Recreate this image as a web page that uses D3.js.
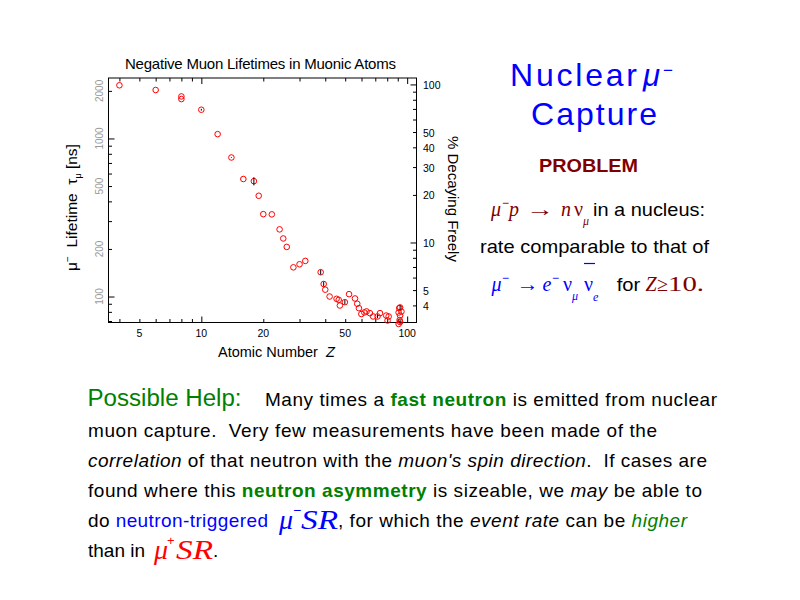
<!DOCTYPE html>
<html>
<head>
<meta charset="utf-8">
<script src="https://cdn.jsdelivr.net/npm/d3@7"></script>
<style>
body { margin: 0; background: #fff; }
text { font-family: "Liberation Sans", Arial, sans-serif; white-space: pre; }
</style>
</head>
<body>
<script>
// atomic number Z and negative muon lifetime in ns
var atomicZ = [4, 6, 8, 8, 10, 12, 14, 16, 18, 19, 20, 22, 24, 25, 26, 28, 30, 32,
  38, 39.3, 40, 42, 45.4, 46.5, 47.1, 49.8, 52.2, 55.8, 57.2, 58.3, 59.9, 61.9, 63.5,
  65.9, 68.3, 71.8, 73.8, 79.1, 80.3, 81.3, 90.9, 91.5, 92.4, 93.8, 92.4, 91.9, 92.4, 90.9];
var lifetime = [2170, 2026, 1845, 1775, 1520, 1065, 758, 554, 537, 434, 332, 331, 266, 233, 206, 153, 160, 168,
  142.5, 120, 110.5, 100, 96.7, 95.3, 87.7, 92.1, 103.5, 97.2, 90, 84.4, 77.5, 79.3, 80.5,
  78.5, 74.8, 74.8, 78.5, 75.8, 70.5, 74.8, 79.2, 84.4, 85.3, 80.3, 75.8, 71, 69, 67];
var lifetimeErr = [0, 0, 0, 0, 20, 0, 4, 0, 32, 0, 0, 0, 0, 0, 0, 0, 0, 0,
  5, 4, 0, 0, 0, 0, 0, 3, 0, 0, 0, 0, 0, 0, 0,
  0, 0, 2, 0, 0, 0, 0, 0, 0, 3, 0, 0, 0, 2, 0];
var xTickLabels = [5, 10, 20, 50, 100];
var yTickLabels = [100, 200, 500, 1000, 2000];
var pctTickLabels = [4, 5, 10, 20, 30, 40, 50, 100];
var freeLifetime = 2197;

var w = 800, h = 600;
var svg = d3.select("body").append("svg").attr("width", w).attr("height", h);
svg.append("rect").attr("width", w).attr("height", h).attr("fill", "#fff");

var plot = {left: 108.5, right: 416.5, top: 78, bottom: 322.5};
var x = d3.scaleLog().domain([3.54, 111]).range([plot.left, plot.right]);
var y = d3.scaleLog().domain([68.5, 2413]).range([plot.bottom, plot.top]);
var yPct = d3.scaleLog().domain(y.domain().map(function (v) { return v * 100 / freeLifetime; })).range(y.range());

function ticks(axisFn, scale, values, size, transform) {
    svg.append("g").attr("transform", transform)
        .call(axisFn(scale).tickValues(values).tickSize(-size).tickFormat(""))
        .call(function (g) { g.select(".domain").remove(); });
}
var xMinor = [4, 5, 6, 7, 8, 9, 20, 30, 40, 50, 60, 70, 80, 90];
var yMinor = [70, 80, 90, 200, 300, 400, 500, 600, 700, 800, 900, 2000];
var pMinor = [4, 5, 6, 7, 8, 9, 20, 30, 40, 50, 60, 70, 80, 90];
ticks(d3.axisTop, x, xMinor, 3.5, "translate(0," + plot.top + ")");
ticks(d3.axisTop, x, [10, 100], 6, "translate(0," + plot.top + ")");
ticks(d3.axisBottom, x, xMinor, 3.5, "translate(0," + plot.bottom + ")");
ticks(d3.axisBottom, x, [10, 100], 6, "translate(0," + plot.bottom + ")");
ticks(d3.axisLeft, y, yMinor, 3.5, "translate(" + plot.left + ",0)");
ticks(d3.axisLeft, y, [100, 1000], 6, "translate(" + plot.left + ",0)");
ticks(d3.axisRight, yPct, pMinor, 3.5, "translate(" + plot.right + ",0)");
ticks(d3.axisRight, yPct, [10, 100], 6, "translate(" + plot.right + ",0)");

svg.append("rect").attr("x", plot.left).attr("y", plot.top)
    .attr("width", plot.right - plot.left).attr("height", plot.bottom - plot.top)
    .attr("fill", "none").attr("stroke", "#000");

// tick labels
svg.append("g").selectAll("text").data(xTickLabels).enter().append("text")
    .attr("x", function (d) { return x(d); }).attr("y", 336.5)
    .attr("text-anchor", "middle").attr("font-size", 10.5).text(function (d) { return d; });
svg.append("g").selectAll("text").data(yTickLabels).enter().append("text")
    .attr("transform", function (d) { return "translate(102.5," + y(d) + ") rotate(-90)"; })
    .attr("text-anchor", "middle").attr("font-size", 10).attr("fill", "#999").text(function (d) { return d; });
svg.append("g").selectAll("text").data(pctTickLabels).enter().append("text")
    .attr("x", 423).attr("y", function (d) { return yPct(d) + 4.5; })
    .attr("font-size", 10.5).text(function (d) { return d; });

// data
var pts = atomicZ.map(function (z, i) { return {z: z, t: lifetime[i], e: lifetimeErr[i]}; });
svg.append("g").selectAll("circle").data(pts).enter().append("circle")
    .attr("cx", function (d) { return x(d.z); }).attr("cy", function (d) { return y(d.t); })
    .attr("r", 2.8).attr("fill", "none").attr("stroke", "#f00").attr("stroke-width", 1);
svg.append("g").selectAll("line").data(pts.filter(function (d) { return d.e > 0; })).enter().append("line")
    .attr("x1", function (d) { return x(d.z); }).attr("x2", function (d) { return x(d.z); })
    .attr("y1", function (d) { return y(d.t + d.e); }).attr("y2", function (d) { return y(d.t - d.e); })
    .attr("stroke", "#000").attr("stroke-width", 1);

// chart texts
svg.append("text").attr("x", 125).attr("y", 69).attr("font-size", 15)
    .attr("textLength", 271).text("Negative Muon Lifetimes in Muonic Atoms");
var xl = svg.append("text").attr("x", 218).attr("y", 357).attr("font-size", 14.5);
xl.append("tspan").text("Atomic Number  ");
xl.append("tspan").attr("font-style", "italic").text("Z");
var yl = svg.append("text").attr("transform", "translate(76.5,271) rotate(-90)").attr("font-size", 15.5);
yl.append("tspan").text("μ");
yl.append("tspan").attr("dy", -6).attr("font-size", 10).text("−");
yl.append("tspan").attr("dy", 6).text("  Lifetime  τ");
yl.append("tspan").attr("dy", 4).attr("font-size", 9).text("μ");
yl.append("tspan").attr("dy", -4).text(" [ns]");
svg.append("text").attr("transform", "translate(448,136) rotate(90)").attr("font-size", 15)
    .text("% Decaying Freely");

// side panel
var blue = "#0000ff", dred = "#800000", green = "#008000";
var serif = '"Liberation Serif", "DejaVu Serif", serif';
function label(px, py, str, o) {
    o = o || {};
    var t = svg.append("text").attr("x", px).attr("y", py)
        .attr("font-size", o.size || 19).attr("fill", o.fill || "#000").text(str);
    if (o.family) t.style("font-family", o.family);
    if (o.italic) t.attr("font-style", "italic");
    if (o.bold) t.attr("font-weight", "bold");
    if (o.len) t.attr("textLength", o.len).attr("lengthAdjust", o.adj || "spacingAndGlyphs");
    if (o.ls) t.style("letter-spacing", o.ls + "px");
    return t;
}
// neutrino with a subscript, kept in one text element
function nu(px, py, sub, col, subDy) {
    var t = svg.append("text").attr("x", px).attr("y", py).attr("fill", col).style("font-family", serif);
    t.append("tspan").attr("font-size", 20).text("ν");
    t.append("tspan").attr("dy", subDy).attr("font-size", 12).attr("font-style", "italic").text(sub);
    return t;
}
label(510, 86, "Nuclear", {size: 32, fill: blue, len: 127, adj: "spacing"});
label(643, 86, "μ", {size: 31, fill: blue, italic: true});
label(663, 76, "−", {size: 17, fill: blue});
label(531, 125, "Capture", {size: 32, fill: blue, len: 126, adj: "spacing"});
label(539, 171.7, "PROBLEM", {size: 19, fill: dred, bold: true, len: 99});

label(491, 216, "μ", {size: 20, fill: dred, italic: true, family: serif});
label(502, 207, "−", {size: 12, fill: dred});
label(509, 216, "p", {size: 20, fill: dred, italic: true, family: serif});
label(526, 216, "→", {size: 20, fill: dred, family: serif, len: 28});
label(561, 216, "n", {size: 20, fill: dred, italic: true, family: serif});
nu(574, 216, "μ", dred, 9);
label(593, 216, "in a nucleus:", {size: 18.5, len: 112});
label(480, 253.3, "rate comparable to that of", {size: 18.5, len: 229});

label(491.5, 290.7, "μ", {size: 20, fill: blue, italic: true, family: serif});
label(502, 282, "−", {size: 12, fill: blue});
label(516.5, 290.7, "→", {size: 20, fill: blue, family: serif, len: 22});
label(542.5, 290.7, "e", {size: 20, fill: blue, italic: true, family: serif});
label(552, 282, "−", {size: 12, fill: blue});
nu(563, 290.7, "μ", blue, 9);
nu(584, 290.7, "e", blue, 10);
svg.append("line").attr("x1", 584).attr("x2", 595).attr("y1", 263.5).attr("y2", 263.5)
    .attr("stroke", blue).attr("stroke-width", 1.2);
label(616.7, 290.7, "for", {size: 18.5, len: 23.5});
label(645.5, 290.7, "Z", {size: 20, fill: dred, italic: true, family: serif});
label(657, 290.7, "≥", {size: 20, fill: dred, family: serif});
label(668, 290.7, "10.", {size: 20, fill: dred, family: serif, len: 36});

// paragraph
function line(px, py, len, segs) {
    var t = svg.append("text").attr("x", px).attr("y", py).attr("font-size", 19)
        .attr("textLength", len).attr("lengthAdjust", "spacing");
    segs.forEach(function (s) {
        var sp = t.append("tspan").text(s[0]);
        var k = s[1] || "";
        if (k.indexOf("b") >= 0) sp.attr("font-weight", "bold");
        if (k.indexOf("i") >= 0) sp.attr("font-style", "italic");
        if (k.indexOf("g") >= 0) sp.attr("fill", green);
        if (k.indexOf("u") >= 0) sp.attr("fill", blue);
    });
    return t;
}
label(87.5, 406, "Possible Help:", {size: 23, fill: green, len: 154});
line(265, 406, 452, [["Many times a "], ["fast neutron", "bg"], [" is emitted from nuclear"]]);
line(88, 436.5, 569, [["muon capture.  Very few measurements have been made of the"]]);
line(88, 466.5, 619, [["correlation", "i"], [" of that neutron with the "], ["muon's spin direction", "i"], [".  If cases are"]]);
line(88, 496.5, 614, [["found where this "], ["neutron asymmetry", "bg"], [" is sizeable, we "], ["may", "i"], [" be able to"]]);
line(88, 527, 180, [["do "], ["neutron-triggered", "u"]]);
line(338, 527, 349, [[", for which the "], ["event rate", "i"], [" can be "], ["higher", "gi"]]);
line(88, 557, 57, [["than in"]]);
label(279, 529, "μ", {size: 28, fill: blue, italic: true, family: serif});
label(293, 515, "−", {size: 14, fill: blue});
label(301, 529, "SR", {size: 28, fill: blue, italic: true, family: serif, len: 37});
label(154, 559, "μ", {size: 28, fill: "#f00", italic: true, family: serif});
label(167, 545, "+", {size: 13, fill: "#f00"});
label(176, 559, "SR", {size: 28, fill: "#f00", italic: true, family: serif, len: 37});
label(213, 557, ".", {size: 19});
</script>
</body>
</html>
